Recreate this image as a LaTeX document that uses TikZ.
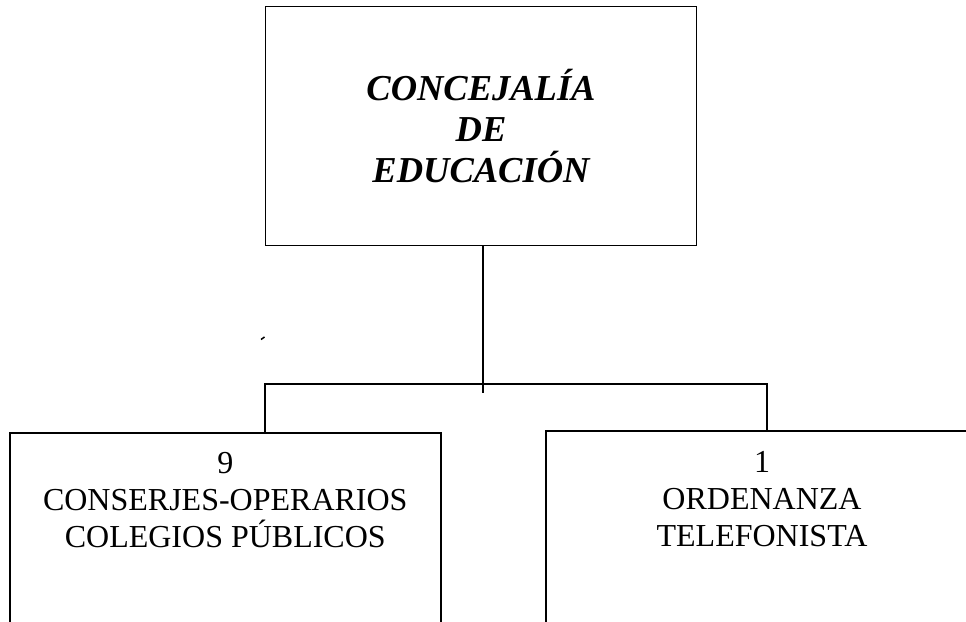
\documentclass[tikz,border=0pt]{standalone}
\usepackage{fontspec}
\setmainfont{Liberation Serif}
\begin{document}
\begin{tikzpicture}[x=1pt,y=-1pt,line width=1.8pt,
    unitbox/.style={draw,inner sep=0pt,minimum width=#1},
    stafftext/.style={align=center,font=\fontsize{32}{37}\selectfont}]
  \useasboundingbox (0,0) rectangle (966,621);
  \clip (0,0) rectangle (966,621);
  \node[unitbox=431pt,minimum height=239pt,align=center,
    font=\fontsize{36.5}{41}\selectfont\bfseries\itshape] (conc) at (481,126)
    {CONCEJALÍA\\DE\\EDUCACIÓN};
  \node[unitbox=430.7pt,minimum height=220pt] (cons) at (225.3,543) {};
  \node[unitbox=432pt,minimum height=220pt] (orde) at (762,541) {};
  \node[stafftext] (consT) at (225.3,500.5) {9\\CONSERJES-OPERARIOS\\COLEGIOS PÚBLICOS};
  \node[stafftext] (ordeT) at (762,499.5) {1\\ORDENANZA\\TELEFONISTA};
  \coordinate (hub) at (483,393);
  \coordinate (bl) at (264.7,384);
  \coordinate (br) at (767,384);
  \draw (conc.south -| hub) -- (hub);
  \draw (cons.north -| bl) -- (bl) -- (br) -- (orde.north -| br);
  \draw[line width=1.5pt] (261,339.5) -- (264.5,337);
\end{tikzpicture}
\end{document}
